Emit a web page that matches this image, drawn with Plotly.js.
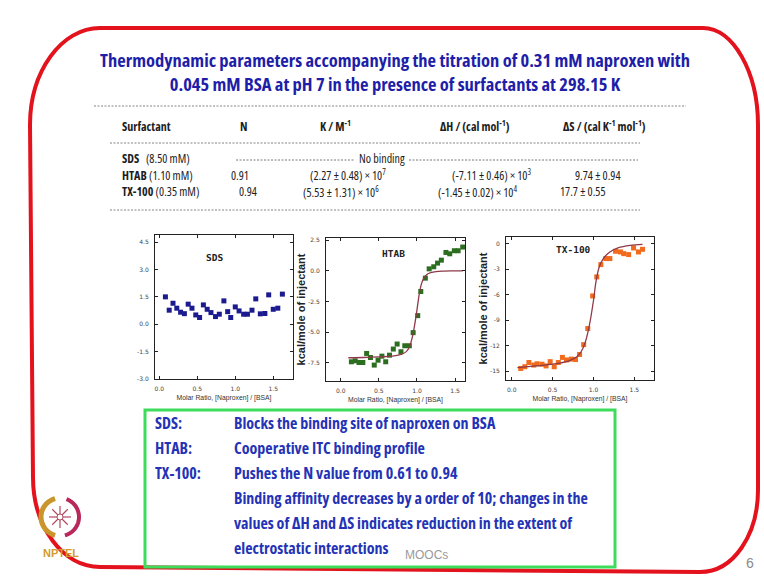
<!DOCTYPE html>
<html><head><meta charset="utf-8">
<script src="https://cdn.plot.ly/plotly-3.0.1.min.js"></script>
<style>
html,body{margin:0;padding:0;background:#fff;}
#chart{width:764px;height:576px;}
text[style*="Open Sans"]{font-stretch:75% !important;}
</style>
</head><body><div id="chart"></div>
<script>
// ---------------- DATA ----------------
const titleLines = ['Thermodynamic parameters accompanying the titration of 0.31 mM naproxen with',
                    '0.045 mM BSA at pH 7 in the presence of surfactants at 298.15 K'];

const tableHeaders = ['Surfactant', 'N', 'K / M<sup>-1</sup>', 'ΔH / (cal mol<sup>-1</sup>)', 'ΔS / (cal K<sup>-1</sup> mol<sup>-1</sup>)'];
const surfactants = ['SDS', 'HTAB', 'TX-100'];
const concentrations = ['(8.50 mM)', '(1.10 mM)', '(0.35 mM)'];
const nValues  = [null, '0.91', '0.94'];
const kValues  = [null, '(2.27 ± 0.48) × 10<sup>7</sup>', '(5.53 ± 1.31) × 10<sup>6</sup>'];
const dhValues = [null, '(-7.11 ± 0.46) × 10<sup>3</sup>', '(-1.45 ± 0.02) × 10<sup>4</sup>'];
const dsValues = [null, '9.74 ± 0.94', '17.7 ± 0.55'];
const noBindingText = 'No binding';

const plotNames = ['SDS', 'HTAB', 'TX-100'];
const xAxisTitle = 'Molar Ratio, [Naproxen] / [BSA]';
const yAxisTitle = 'kcal/mole of injectant';
const xTickVals = [0, 0.5, 1.0, 1.5];
const xTickText = ['0.0', '0.5', '1.0', '1.5'];
const sdsYTickVals = [4.5, 3.0, 1.5, 0, -1.5, -3.0];
const sdsYTickText = ['4.5', '3.0', '1.5', '0.0', '-1.5', '-3.0'];
const htabYTickVals = [2.5, 0, -2.5, -5.0, -7.5];
const htabYTickText = ['2.5', '0.0', '-2.5', '-5.0', '-7.5'];
const txYTickVals = [0, -3, -6, -9, -12, -15];
const txYTickText = ['0', '-3', '-6', '-9', '-12', '-15'];

const sdsX = [0.08,0.13,0.18,0.23,0.28,0.33,0.38,0.43,0.48,0.53,0.58,0.63,0.68,0.74,0.79,0.85,0.90,0.94,1.00,1.05,1.11,1.16,1.22,1.27,1.33,1.39,1.44,1.50,1.56,1.62];
const sdsY = [1.50,0.77,1.15,0.88,0.66,0.58,1.10,0.88,0.51,0.37,1.06,0.82,0.64,0.42,0.55,1.28,0.69,0.37,0.95,0.73,0.55,0.55,0.77,1.39,0.57,0.59,1.61,0.82,0.88,1.65];

const htabX = [0.14,0.19,0.24,0.29,0.34,0.39,0.44,0.49,0.54,0.59,0.64,0.69,0.74,0.79,0.84,0.90,0.95,1.01,1.05,1.11,1.16,1.22,1.27,1.32,1.38,1.43,1.49,1.54,1.60];
const htabY = [-7.43,-7.35,-7.49,-7.49,-6.75,-7.08,-7.70,-7.30,-6.97,-7.43,-6.89,-6.39,-5.98,-6.61,-6.12,-6.12,-5.05,-3.66,-1.69,-0.60,0.16,0.33,0.63,0.87,1.50,1.39,1.64,1.64,1.94];
const htabFitX = [0.10,0.30,0.50,0.70,0.80,0.86,0.90,0.94,0.97,1.00,1.03,1.06,1.09,1.13,1.18,1.25,1.35,1.45,1.60];
const htabFitY = [-7.10,-7.08,-7.03,-6.95,-6.80,-6.60,-6.25,-5.40,-4.40,-3.20,-1.90,-1.05,-0.60,-0.30,-0.15,-0.06,-0.02,0.0,0.0];

const txX = [0.11,0.16,0.21,0.27,0.31,0.37,0.42,0.47,0.52,0.57,0.62,0.67,0.73,0.78,0.83,0.88,0.93,0.99,1.04,1.09,1.15,1.20,1.27,1.33,1.37,1.43,1.49,1.55,1.60];
const txY = [-14.7,-14.5,-14.0,-14.3,-14.15,-14.2,-14.4,-13.9,-14.5,-14.0,-13.4,-13.7,-13.6,-13.65,-13.06,-11.9,-10.0,-6.16,-3.92,-2.47,-1.76,-1.76,-0.90,-0.98,-1.18,-1.29,-0.51,-0.98,-0.67];
const txFitX = [0.07,0.30,0.50,0.70,0.80,0.85,0.90,0.95,1.00,1.03,1.07,1.12,1.20,1.30,1.45,1.60];
const txFitY = [-14.6,-14.4,-14.2,-13.8,-13.3,-12.7,-11.6,-9.6,-6.7,-4.5,-2.75,-1.76,-0.98,-0.5,-0.2,-0.1];

const noteLabels = ['SDS:', 'HTAB:', 'TX-100:', '', '', ''];
const noteLines = ['Blocks the binding site of naproxen on BSA',
                   'Cooperative ITC binding profile',
                   'Pushes the N value from 0.61 to 0.94',
                   'Binding affinity decreases by a order of 10; changes in the',
                   'values of ΔH and ΔS indicates reduction in the extent of',
                   'electrostatic interactions'];
const watermark = 'MOOCs';
const pageNumber = '6';
const logoText = 'NPTEL';

// ---------------- HELPERS ----------------
const W = 764, H = 576;
const px = x => x / W;
const py = y => 1 - y / H;
const P = s => s.replace(/(-?\d+\.?\d*)\s+(-?\d+\.?\d*)/g, (m, a, b) => (a / W).toFixed(5) + ',' + (1 - b / H).toFixed(5));
const COND = '"Open Sans", "Liberation Sans", sans-serif';
const BLUE = '#1e1ea8';
const TXT = '#1d1d1d';

function ann(text, x, y, xanchor, font, extra) {
  return Object.assign({text: text, x: px(x), y: py(y), xref: 'paper', yref: 'paper', showarrow: false,
    xanchor: xanchor || 'center', yanchor: 'middle', font: font}, extra || {});
}
function hline(x0, x1, y, color, width, dash) {
  return {type: 'line', xref: 'paper', yref: 'paper', x0: px(x0), x1: px(x1), y0: py(y), y1: py(y),
    line: {color: color, width: width, dash: dash || 'solid'}};
}
function arcPath(cx, cy, r, a0, a1, n) {
  let s = '';
  for (let i = 0; i <= n; i++) {
    const a = (a0 + (a1 - a0) * i / n) * Math.PI / 180;
    s += (i === 0 ? 'M ' : ' L ') + (cx + r * Math.cos(a)).toFixed(2) + ' ' + (cy + r * Math.sin(a)).toFixed(2);
  }
  return P(s);
}

// ---------------- TRACES ----------------
const traces = [
  {x: sdsX, y: sdsY, xaxis: 'x', yaxis: 'y', type: 'scatter', mode: 'markers', name: 'SDS',
   marker: {symbol: 'square', size: 5, color: '#1b1b8f'}},
  {x: htabX, y: htabY, xaxis: 'x2', yaxis: 'y2', type: 'scatter', mode: 'markers', name: 'HTAB',
   marker: {symbol: 'square', size: 5, color: '#2c6e1f'}},
  {x: htabFitX, y: htabFitY, xaxis: 'x2', yaxis: 'y2', type: 'scatter', mode: 'lines', name: 'HTAB fit',
   line: {color: '#8e3a48', width: 1.3, shape: 'spline', smoothing: 0.8}},
  {x: txX, y: txY, xaxis: 'x3', yaxis: 'y3', type: 'scatter', mode: 'markers', name: 'TX-100',
   marker: {symbol: 'square', size: 5, color: '#f26a1b'}},
  {x: txFitX, y: txFitY, xaxis: 'x3', yaxis: 'y3', type: 'scatter', mode: 'lines', name: 'TX-100 fit',
   line: {color: '#8e3a48', width: 1.3, shape: 'spline', smoothing: 0.8}}
];

// ---------------- AXES ----------------
const tickFont = {size: 6, family: 'DejaVu Sans', color: '#444'};
function axisBase() {
  return {showline: true, mirror: 'ticks', linecolor: '#222', linewidth: 1, ticks: 'inside', ticklen: 3,
    tickcolor: '#222', tickwidth: 1, showgrid: false, zeroline: false, tickfont: tickFont, fixedrange: true,
    ticklabelstandoff: 4};
}
function xAxis(domain, range, anchor) {
  return Object.assign(axisBase(), {domain: domain, range: range, anchor: anchor,
    tickvals: xTickVals, ticktext: xTickText,
    title: {text: xAxisTitle, standoff: 4, font: {size: 6.8, family: 'Liberation Sans', color: '#333'}}});
}
function yAxis(domain, range, anchor, vals, text, withTitle) {
  const a = Object.assign(axisBase(), {domain: domain, range: range, anchor: anchor, tickvals: vals, ticktext: text});
  if (withTitle) a.title = {text: yAxisTitle, standoff: 0, font: {size: 11, family: 'Liberation Sans', color: '#222', weight: 'bold'}};
  return a;
}

// ---------------- ANNOTATIONS ----------------
const annotations = [];
const tFont = {size: 12, family: COND, color: TXT};
const tBold = Object.assign({}, tFont, {weight: 'bold'});
const headerPos = [[120, 'left'], [243, 'center'], [335, 'center'], [475, 'center'], [604, 'center']];
tableHeaders.forEach((h, i) => annotations.push(ann(h, headerPos[i][0], 126, headerPos[i][1], tBold)));
const rowY = [158.5, 175, 192];
const nPos = [0, 240, 248], kPos = [0, 348, 341], dhPos = [0, 491, 477], dsPos = [0, 598, 583];
surfactants.forEach((s, i) => {
  const gap = i === 0 ? '\u00a0\u00a0\u00a0' : '\u00a0';
  annotations.push(ann('<b>' + s + '</b>' + gap + concentrations[i], 120, rowY[i], 'left', tFont));
  if (nValues[i] !== null) {
    annotations.push(ann(nValues[i], nPos[i], rowY[i], 'center', tFont));
    annotations.push(ann(kValues[i], kPos[i], rowY[i], 'center', tFont));
    annotations.push(ann(dhValues[i], dhPos[i], rowY[i], 'center', tFont));
    annotations.push(ann(dsValues[i], dsPos[i], rowY[i], 'center', tFont));
  }
});
annotations.push(ann(noBindingText, 382, 158, 'center', tFont));

// plot labels
const plotLabelPos = [[215, 257], [394, 253], [573, 249]];
plotNames.forEach((n, i) => annotations.push(ann(n, plotLabelPos[i][0], plotLabelPos[i][1], 'center',
  {size: 9.5, family: 'DejaVu Sans Mono', color: '#222', weight: 'bold'})));

// notes box
const nFont = {size: 16, family: COND, color: '#2433b5', weight: 'bold'};
noteLines.forEach((t, i) => {
  const y = 423 + i * 25;
  if (noteLabels[i]) annotations.push(ann(noteLabels[i], 153, y, 'left', nFont));
  annotations.push(ann(t, 232, y, 'left', nFont));
});
annotations.push(ann(watermark, 426, 555, 'center', {size: 12, family: 'Liberation Sans', color: '#9a9a9a'}));
annotations.push(ann(pageNumber, 750, 563, 'center', {size: 14, family: 'Liberation Sans', color: '#8a8a8a'}));
annotations.push(ann(logoText, 61, 553, 'center', {size: 11, family: 'Liberation Sans', color: '#d39b2a', weight: 'bold'}));

// ---------------- SHAPES ----------------
const shapes = [];
const DASH = '2px,1.5px';
shapes.push(hline(94, 686, 106, '#666', 0.8, DASH));
shapes.push(hline(110, 640, 143, '#666', 0.8, DASH));
shapes.push(hline(110, 640, 210, '#666', 0.8, DASH));
shapes.push(hline(236, 355, 160, '#555', 0.8, DASH));
shapes.push(hline(409, 638, 160, '#555', 0.8, DASH));
// red frame
shapes.push({type: 'path', xref: 'paper', yref: 'paper', layer: 'above',
  path: P('M 100 28 L 703 28 C 733 28 758 72 758 125 L 758 490 C 758 534 734 572 700 572 L 100 567 C 63 567 33 527 33 477 L 30 125 C 30 71.5 61.4 28 100 28 Z'),
  line: {color: '#e3121c', width: 4}, fillcolor: 'rgba(0,0,0,0)'});
// green note box
shapes.push({type: 'rect', xref: 'paper', yref: 'paper', x0: px(145), x1: px(615), y0: py(410), y1: py(567),
  line: {color: '#3ddc5c', width: 3}, fillcolor: 'rgba(0,0,0,0)'});
// NPTEL emblem
shapes.push({type: 'path', xref: 'paper', yref: 'paper', path: arcPath(60, 517, 19, 105, 255, 30),
  line: {color: '#c9962e', width: 5}});
shapes.push({type: 'path', xref: 'paper', yref: 'paper', path: arcPath(60, 517, 19, -70, 75, 30),
  line: {color: '#b8285a', width: 4}});
for (let k = 0; k < 8; k++) {
  const a = k * Math.PI / 4;
  shapes.push({type: 'path', xref: 'paper', yref: 'paper',
    path: P('M 60 517 L ' + (60 + 11 * Math.cos(a)).toFixed(2) + ' ' + (517 + 11 * Math.sin(a)).toFixed(2)),
    line: {color: '#b04a5e', width: 1.2}});
}
shapes.push({type: 'circle', xref: 'paper', yref: 'paper', x0: px(57), x1: px(63), y0: py(514), y1: py(520),
  line: {color: '#b04a5e', width: 1}, fillcolor: '#fff'});

// ---------------- LAYOUT ----------------
const layout = {
  width: W, height: H, margin: {l: 0, r: 0, t: 0, b: 0, pad: 0},
  paper_bgcolor: '#ffffff', plot_bgcolor: '#ffffff', showlegend: false,
  title: {text: titleLines.join('<br>'), x: px(395), xref: 'paper', xanchor: 'center',
          y: 1 - 67 / H, yref: 'container', yanchor: 'middle',
          font: {size: 18.5, family: COND, color: BLUE, weight: 'bold'}},
  xaxis:  xAxis([px(155), px(293)], [-0.057, 1.76], 'y'),
  yaxis:  yAxis([py(379), py(235)], [-3.0, 4.89], 'x', sdsYTickVals, sdsYTickText, false),
  xaxis2: xAxis([px(326), px(465)], [-0.193, 1.63], 'y2'),
  yaxis2: yAxis([py(381), py(238)], [-9.0, 2.68], 'x2', htabYTickVals, htabYTickText, true),
  xaxis3: xAxis([px(506), px(654)], [-0.07, 1.74], 'y3'),
  yaxis3: yAxis([py(380), py(237)], [-16.06, 0.78], 'x3', txYTickVals, txYTickText, true),
  annotations: annotations,
  shapes: shapes
};

Plotly.newPlot('chart', traces, layout, {displayModeBar: false, staticPlot: true});
</script></body></html>
